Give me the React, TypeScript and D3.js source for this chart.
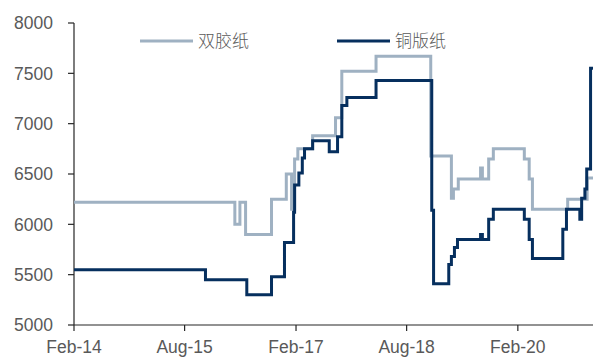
import React, { useEffect, useRef } from "react";
import * as d3 from "d3";

const W = 593;
const H = 358;

const seriesNames = ["双胶纸", "铜版纸"];
const yTicks = [5000, 5500, 6000, 6500, 7000, 7500, 8000];
const xTickDates = ["2014-02-01", "2015-08-01", "2017-02-01", "2018-08-01", "2020-02-01"];
const xTickLabels = ["Feb-14", "Aug-15", "Feb-17", "Aug-18", "Feb-20"];

const grayDates = [
  "2014-02-01", "2016-04-05", "2016-04-30", "2016-05-28", "2016-10-03", "2016-12-15",
  "2017-01-10", "2017-01-25", "2017-02-10", "2017-04-24", "2017-08-15", "2017-09-15",
  "2018-03-03", "2018-11-28", "2019-03-10", "2019-03-20", "2019-04-13", "2019-08-01",
  "2019-08-10", "2019-09-10", "2019-10-03", "2020-03-04", "2020-03-28", "2020-04-13",
  "2020-10-04", "2021-01-08", "2021-02-06",
];
const grayValues = [
  6220, 6000, 6220, 5900, 6250, 6500,
  6150, 6650, 6750, 6880, 7060, 7520,
  7670, 6680, 6260, 6350, 6450, 6560,
  6450, 6650, 6750, 6650, 6450, 6150,
  6250, 6460, 6460,
];

const darkDates = [
  "2014-02-01", "2015-11-12", "2016-06-03", "2016-10-03", "2016-12-06", "2017-01-20",
  "2017-01-25", "2017-02-15", "2017-03-04", "2017-03-15", "2017-04-24", "2017-07-15",
  "2017-08-25", "2017-09-15", "2017-10-10", "2018-03-03", "2018-12-03", "2018-12-12",
  "2019-02-25", "2019-03-10", "2019-03-25", "2019-04-09", "2019-08-01", "2019-08-10",
  "2019-09-10", "2019-10-03", "2020-03-04", "2020-03-28", "2020-04-13", "2020-09-10",
  "2020-09-28", "2020-12-03", "2020-12-12", "2020-12-28", "2021-01-06", "2021-01-25",
  "2021-02-06",
];
const darkValues = [
  5550, 5450, 5300, 5480, 5820, 6120,
  6390, 6510, 6660, 6750, 6830, 6720,
  6870, 7180, 7260, 7430, 6140, 5410,
  5600, 5680, 5770, 5850, 5900, 5850,
  6050, 6150, 6050, 5850, 5660, 5950,
  6150, 6050, 6260, 6350, 6550, 7550,
  7550,
];

const colors = ["#9fb1c2", "#062f5e"];

export default function App() {
  const ref = useRef<SVGSVGElement>(null);

  useEffect(() => {
    const svg = d3.select(ref.current);
    svg.selectAll("*").remove();
    const parse = d3.timeParse("%Y-%m-%d");

    const x = d3
      .scaleTime()
      .domain([parse("2014-02-01")!, parse("2021-02-06")!])
      .range([74, 593]);
    const y = d3.scaleLinear().domain([5000, 8000]).range([325, 23]);

    const font = "Arial, 'Liberation Sans', sans-serif";
    const textColor = "#595959";

    // y axis
    const yAxis = svg.append("g").attr("transform", "translate(74,0)");
    yAxis.append("line").attr("x1", 0).attr("x2", 0).attr("y1", y(8000)).attr("y2", y(5000)).attr("stroke", "#262626").attr("stroke-width", 1.2);
    yTicks.forEach((t) => {
      yAxis.append("line").attr("x1", -6).attr("x2", 0).attr("y1", y(t)).attr("y2", y(t)).attr("stroke", "#262626").attr("stroke-width", 1.2);
      yAxis
        .append("text")
        .attr("x", -21)
        .attr("y", y(t))
        .attr("dy", "0.36em")
        .attr("text-anchor", "end")
        .attr("font-family", font)
        .attr("font-size", 17.5)
        .attr("fill", textColor)
        .text(String(t));
    });

    // x axis
    const xAxis = svg.append("g").attr("transform", `translate(0,${y(5000)})`);
    xAxis.append("line").attr("x1", 74).attr("x2", 593).attr("y1", 0).attr("y2", 0).attr("stroke", "#262626").attr("stroke-width", 1.2);
    xTickDates.forEach((d, i) => {
      const px = x(parse(d)!);
      xAxis.append("line").attr("x1", px).attr("x2", px).attr("y1", 0).attr("y2", 6).attr("stroke", "#262626").attr("stroke-width", 1.2);
      xAxis
        .append("text")
        .attr("x", px)
        .attr("y", 28)
        .attr("text-anchor", "middle")
        .attr("font-family", font)
        .attr("font-size", 17.5)
        .attr("fill", textColor)
        .text(xTickLabels[i]);
    });

    const line = d3
      .line<[Date, number]>()
      .x((d) => x(d[0]))
      .y((d) => y(d[1]))
      .curve(d3.curveStepAfter);

    const grayData: [Date, number][] = grayDates.map((d, i) => [parse(d)!, grayValues[i]]);
    const darkData: [Date, number][] = darkDates.map((d, i) => [parse(d)!, darkValues[i]]);

    svg.append("path").datum(grayData).attr("d", line).attr("fill", "none").attr("stroke", colors[0]).attr("stroke-width", 3);
    svg.append("path").datum(darkData).attr("d", line).attr("fill", "none").attr("stroke", colors[1]).attr("stroke-width", 3);

    // legend
    const legendX = [140, 337];
    seriesNames.forEach((n, i) => {
      const g = svg.append("g").attr("transform", `translate(${legendX[i]},41)`);
      g.append("line").attr("x1", 0).attr("x2", 53).attr("y1", 0).attr("y2", 0).attr("stroke", colors[i]).attr("stroke-width", 3);
      g.append("text")
        .attr("x", 58)
        .attr("y", 0)
        .attr("dy", "0.36em")
        .attr("font-family", "'Noto Sans CJK SC', sans-serif")
        .attr("font-weight", 300)
        .attr("font-size", 17)
        .attr("fill", textColor)
        .text(n);
    });
  }, []);

  return (
    <svg
      ref={ref}
      width={W}
      height={H}
      style={{ position: "absolute", left: 0, top: 0, background: "#fff" }}
    />
  );
}
